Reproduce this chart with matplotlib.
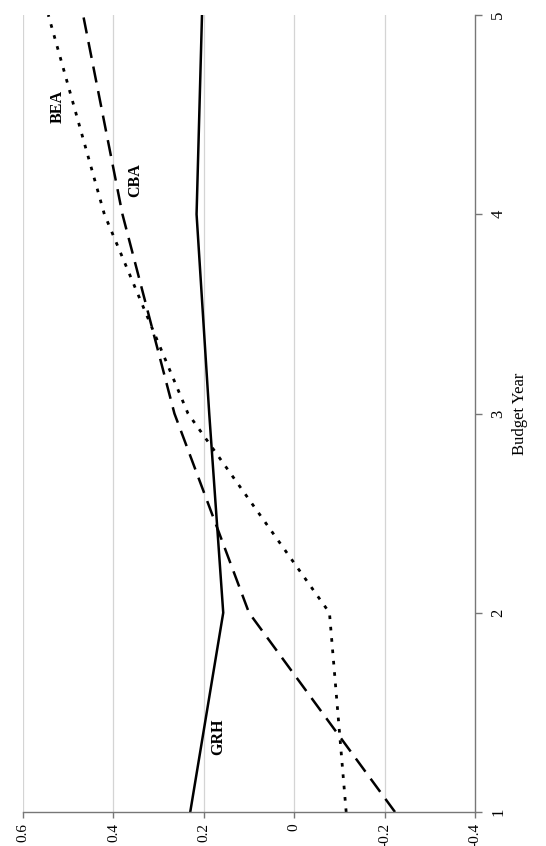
import matplotlib
matplotlib.use("Agg")
import matplotlib.pyplot as plt
from matplotlib import font_manager

years = [1, 2, 3, 4, 5]
grh = [0.23, 0.157, 0.188, 0.216, 0.204]
bea = [-0.115, -0.078, 0.235, 0.42, 0.544]
cba = [-0.223, 0.10, 0.265, 0.38, 0.467]
value_ticks = [0.6, 0.4, 0.2, 0, -0.2, -0.4]
value_labels = ["0.6", "0.4", "0.2", "0", "-0.2", "-0.4"]
year_ticks = [1, 2, 3, 4, 5]

names = {f.name for f in font_manager.fontManager.ttflist}
serif = 'Liberation Serif' if 'Liberation Serif' in names else 'DejaVu Serif'
plt.rcParams['font.family'] = [serif, 'DejaVu Serif']

fig = plt.figure(figsize=(5.46, 8.46), dpi=100)
ax = fig.add_axes([23/546, 1-812/846, (475-23)/546, (812-15)/846])

ax.plot(grh, years, color='black', lw=1.8, solid_joinstyle='miter')
ax.plot(bea, years, color='black', lw=2.0, linestyle=(0, (1.3, 2.8)))
ax.plot(cba, years, color='black', lw=1.8, linestyle=(0, (6.5, 3.5)))

ax.set_xlim(0.6, -0.4)
ax.set_ylim(1, 5)

ax.set_xticks(value_ticks)
ax.set_xticklabels(value_labels, rotation=90, fontsize=11, va='top')
ax.set_yticks(year_ticks)
ax.set_yticklabels([str(y) for y in year_ticks], rotation=90, fontsize=12, va='center')
ax.yaxis.tick_right()
ax.yaxis.set_label_position('right')
ax.set_ylabel("Budget Year", rotation=90, fontsize=12, labelpad=4)

for v in value_ticks[:-1]:
    ax.axvline(v, color='#d4d4d4', lw=0.9, zorder=0)

for s in ['top', 'left']:
    ax.spines[s].set_visible(False)
for s in ['bottom', 'right']:
    ax.spines[s].set_color('#777777')
    ax.spines[s].set_linewidth(1.0)
ax.tick_params(axis='x', direction='out', length=4, width=1.0, color='#777777', pad=4)
ax.tick_params(axis='y', direction='out', length=5, width=1.0, color='#777777', pad=6)

ax.text(0.524, 4.54, "BEA", rotation=90, fontsize=11.5, fontweight='bold', ha='center', va='center')
ax.text(0.352, 4.17, "CBA", rotation=90, fontsize=11.5, fontweight='bold', ha='center', va='center')
ax.text(0.168, 1.376, "GRH", rotation=90, fontsize=11.5, fontweight='bold', ha='center', va='center')

fig.savefig("out.png", dpi=100)
